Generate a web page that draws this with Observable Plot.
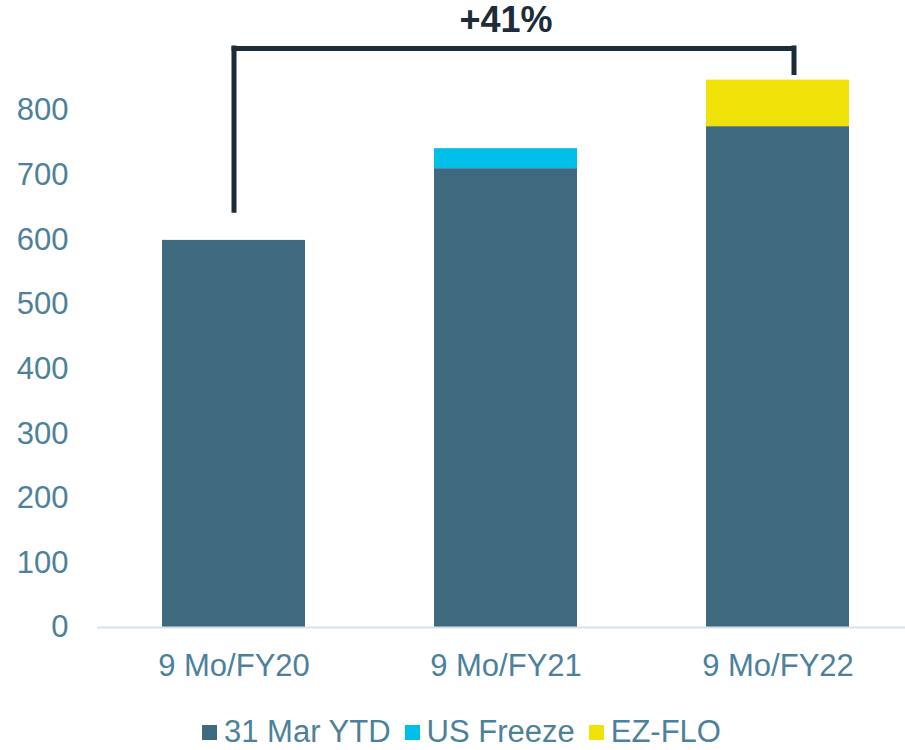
<!DOCTYPE html>
<html><head><meta charset="utf-8">
<script src="https://cdn.jsdelivr.net/npm/d3@7"></script>
<script src="https://cdn.jsdelivr.net/npm/@observablehq/plot@0.6"></script>
<style>
body{margin:0;background:#fff;font-family:"Liberation Sans",Arial,sans-serif;}
#legend{display:flex;align-items:center;padding-left:202px;padding-top:11px;font-size:31px;line-height:31px;color:#4d819b;}
.item{display:flex;align-items:center;margin-right:14px;}
.sw{width:15px;height:15px;margin-right:7px;margin-top:2px;}
</style></head><body><div id="chart"></div><div id="legend"></div>
<script>
const periods = ["9 Mo/FY20", "9 Mo/FY21", "9 Mo/FY22"];
const seriesNames = ["31 Mar YTD", "US Freeze", "EZ-FLO"];
const ytd = [599, 710, 775];
const usFreeze = [0, 31, 0];
const ezFlo = [0, 0, 72];
const yTicks = [0, 100, 200, 300, 400, 500, 600, 700, 800];
const colors = ["#3e6a7f", "#00bfe8", "#f0e208"];
const textColor = "#4d819b";
const bracketColor = "#1c2d39";

const seriesValues = [ytd, usFreeze, ezFlo];
const rows = [];
periods.forEach((p, i) => seriesNames.forEach((s, j) => rows.push({period: p, series: s, value: seriesValues[j][i]})));
const totals = periods.map((p, i) => seriesValues.reduce((a, v) => a + v[i], 0));
const first = periods[0], last = periods[periods.length - 1], mid = periods[1];
const growth = "+" + Math.round((totals[totals.length - 1] / totals[0] - 1) * 100) + "%";
// bracket levels (data units) above the bars
const bracketTop = totals[totals.length - 1] + 49;
const leftFoot = totals[0] + 46;
const rightFoot = totals[totals.length - 1] + 11;
const labelLevel = bracketTop + 43;

const plot = Plot.plot({
  width: 905,
  height: 705,
  marginLeft: 97,
  marginRight: 0,
  marginTop: 110,
  marginBottom: 78,
  style: {fontFamily: "Liberation Sans, Arial, sans-serif", color: textColor, background: "#fff"},
  x: {domain: periods, range: [97, 915], paddingInner: 0.473, paddingOuter: 0.235, label: null},
  y: {domain: [0, 800], label: null},
  color: {domain: seriesNames, range: colors},
  marks: [
    Plot.axisY({ticks: yTicks, tickSize: 0, tickPadding: 29, fontSize: 31, label: null}),
    Plot.axisX({tickSize: 0, tickPadding: 26, fontSize: 31, label: null}),
    Plot.barY(rows, {x: "period", y: "value", fill: "series"}),
    Plot.ruleY([0], {stroke: "#d6e3ec", strokeWidth: 2}),
    Plot.ruleX([first], {y1: leftFoot, y2: bracketTop, stroke: bracketColor, strokeWidth: 5, strokeLinecap: "square"}),
    Plot.ruleX([last], {y1: rightFoot, y2: bracketTop, dx: 16, stroke: bracketColor, strokeWidth: 5, strokeLinecap: "square"}),
    Plot.ruleY([bracketTop], {x1: () => first, x2: () => last, insetLeft: 72, insetRight: 56, stroke: bracketColor, strokeWidth: 5, strokeLinecap: "square"}),
    Plot.text([growth], {x: () => mid, y: () => labelLevel, text: d => d, fontSize: 36, fontWeight: "bold", fill: bracketColor, textAnchor: "middle"})
  ]
});
document.getElementById("chart").appendChild(plot);

const legend = d3.select("#legend");
seriesNames.forEach((s, i) => {
  const it = legend.append("div").attr("class", "item");
  it.append("div").attr("class", "sw").style("background", colors[i]);
  it.append("span").text(s);
});
</script></body></html>
